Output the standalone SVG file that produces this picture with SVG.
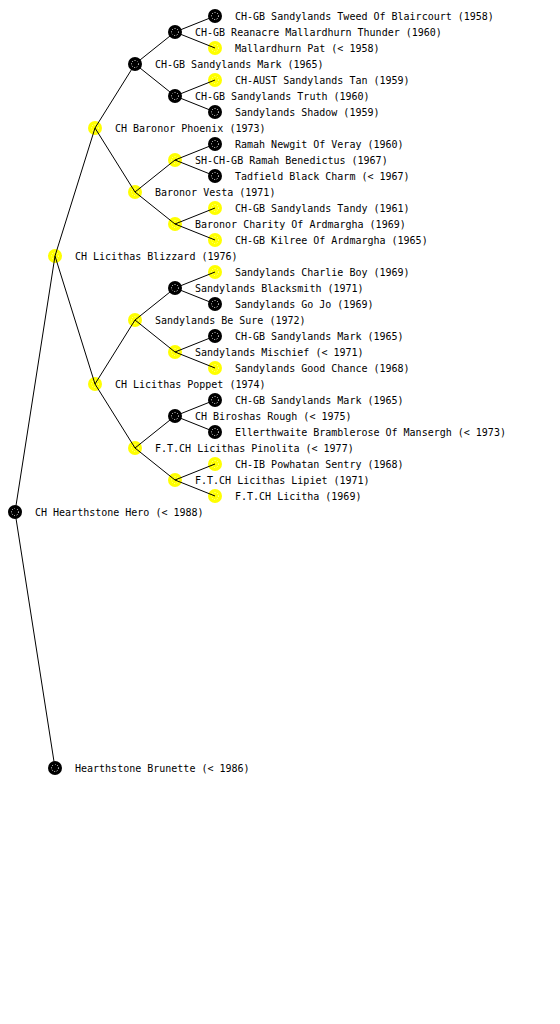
<svg xmlns="http://www.w3.org/2000/svg" width="560" height="1024" viewBox="0 0 560 1024">
<style>
.e{stroke:#000;stroke-width:1;fill:none}
.b{fill:#000}
.y{fill:#ffff00}
.d{fill:none;stroke:#fff;stroke-width:1;stroke-dasharray:1 1.6}
.dy{fill:none;stroke:#ffffb0;stroke-width:1;stroke-dasharray:1 1.6}
text{font-family:"DejaVu Sans Mono","Liberation Mono",monospace;font-size:10px;fill:#000}
</style>
<rect width="560" height="1024" fill="#fff"/>
<g id="n0"><circle class="b" cx="15" cy="512" r="7"/><circle class="d" cx="15" cy="512" r="3.5"/><text x="35" y="516">CH Hearthstone Hero (&lt; 1988)</text></g>
<g id="n1"><circle class="y" cx="55" cy="256" r="7"/><circle class="dy" cx="55" cy="256" r="3.5"/><text x="75" y="260">CH Licithas Blizzard (1976)</text></g>
<g id="n2"><circle class="b" cx="55" cy="768" r="7"/><circle class="d" cx="55" cy="768" r="3.5"/><text x="75" y="772">Hearthstone Brunette (&lt; 1986)</text></g>
<g id="n3"><circle class="y" cx="95" cy="128" r="7"/><circle class="dy" cx="95" cy="128" r="3.5"/><text x="115" y="132">CH Baronor Phoenix (1973)</text></g>
<g id="n4"><circle class="y" cx="95" cy="384" r="7"/><circle class="dy" cx="95" cy="384" r="3.5"/><text x="115" y="388">CH Licithas Poppet (1974)</text></g>
<g id="n5"><circle class="b" cx="135" cy="64" r="7"/><circle class="d" cx="135" cy="64" r="3.5"/><text x="155" y="68">CH-GB Sandylands Mark (1965)</text></g>
<g id="n6"><circle class="y" cx="135" cy="192" r="7"/><circle class="dy" cx="135" cy="192" r="3.5"/><text x="155" y="196">Baronor Vesta (1971)</text></g>
<g id="n7"><circle class="y" cx="135" cy="320" r="7"/><circle class="dy" cx="135" cy="320" r="3.5"/><text x="155" y="324">Sandylands Be Sure (1972)</text></g>
<g id="n8"><circle class="y" cx="135" cy="448" r="7"/><circle class="dy" cx="135" cy="448" r="3.5"/><text x="155" y="452">F.T.CH Licithas Pinolita (&lt; 1977)</text></g>
<g id="n9"><circle class="b" cx="175" cy="32" r="7"/><circle class="d" cx="175" cy="32" r="3.5"/><text x="195" y="36">CH-GB Reanacre Mallardhurn Thunder (1960)</text></g>
<g id="n10"><circle class="b" cx="175" cy="96" r="7"/><circle class="d" cx="175" cy="96" r="3.5"/><text x="195" y="100">CH-GB Sandylands Truth (1960)</text></g>
<g id="n11"><circle class="y" cx="175" cy="160" r="7"/><circle class="dy" cx="175" cy="160" r="3.5"/><text x="195" y="164">SH-CH-GB Ramah Benedictus (1967)</text></g>
<g id="n12"><circle class="y" cx="175" cy="224" r="7"/><circle class="dy" cx="175" cy="224" r="3.5"/><text x="195" y="228">Baronor Charity Of Ardmargha (1969)</text></g>
<g id="n13"><circle class="b" cx="175" cy="288" r="7"/><circle class="d" cx="175" cy="288" r="3.5"/><text x="195" y="292">Sandylands Blacksmith (1971)</text></g>
<g id="n14"><circle class="y" cx="175" cy="352" r="7"/><circle class="dy" cx="175" cy="352" r="3.5"/><text x="195" y="356">Sandylands Mischief (&lt; 1971)</text></g>
<g id="n15"><circle class="b" cx="175" cy="416" r="7"/><circle class="d" cx="175" cy="416" r="3.5"/><text x="195" y="420">CH Biroshas Rough (&lt; 1975)</text></g>
<g id="n16"><circle class="y" cx="175" cy="480" r="7"/><circle class="dy" cx="175" cy="480" r="3.5"/><text x="195" y="484">F.T.CH Licithas Lipiet (1971)</text></g>
<g id="n17"><circle class="b" cx="215" cy="16" r="7"/><circle class="d" cx="215" cy="16" r="3.5"/><text x="235" y="20">CH-GB Sandylands Tweed Of Blaircourt (1958)</text></g>
<g id="n18"><circle class="y" cx="215" cy="48" r="7"/><circle class="dy" cx="215" cy="48" r="3.5"/><text x="235" y="52">Mallardhurn Pat (&lt; 1958)</text></g>
<g id="n19"><circle class="y" cx="215" cy="80" r="7"/><circle class="dy" cx="215" cy="80" r="3.5"/><text x="235" y="84">CH-AUST Sandylands Tan (1959)</text></g>
<g id="n20"><circle class="b" cx="215" cy="112" r="7"/><circle class="d" cx="215" cy="112" r="3.5"/><text x="235" y="116">Sandylands Shadow (1959)</text></g>
<g id="n21"><circle class="b" cx="215" cy="144" r="7"/><circle class="d" cx="215" cy="144" r="3.5"/><text x="235" y="148">Ramah Newgit Of Veray (1960)</text></g>
<g id="n22"><circle class="b" cx="215" cy="176" r="7"/><circle class="d" cx="215" cy="176" r="3.5"/><text x="235" y="180">Tadfield Black Charm (&lt; 1967)</text></g>
<g id="n23"><circle class="y" cx="215" cy="208" r="7"/><circle class="dy" cx="215" cy="208" r="3.5"/><text x="235" y="212">CH-GB Sandylands Tandy (1961)</text></g>
<g id="n24"><circle class="y" cx="215" cy="240" r="7"/><circle class="dy" cx="215" cy="240" r="3.5"/><text x="235" y="244">CH-GB Kilree Of Ardmargha (1965)</text></g>
<g id="n25"><circle class="y" cx="215" cy="272" r="7"/><circle class="dy" cx="215" cy="272" r="3.5"/><text x="235" y="276">Sandylands Charlie Boy (1969)</text></g>
<g id="n26"><circle class="b" cx="215" cy="304" r="7"/><circle class="d" cx="215" cy="304" r="3.5"/><text x="235" y="308">Sandylands Go Jo (1969)</text></g>
<g id="n27"><circle class="b" cx="215" cy="336" r="7"/><circle class="d" cx="215" cy="336" r="3.5"/><text x="235" y="340">CH-GB Sandylands Mark (1965)</text></g>
<g id="n28"><circle class="y" cx="215" cy="368" r="7"/><circle class="dy" cx="215" cy="368" r="3.5"/><text x="235" y="372">Sandylands Good Chance (1968)</text></g>
<g id="n29"><circle class="b" cx="215" cy="400" r="7"/><circle class="d" cx="215" cy="400" r="3.5"/><text x="235" y="404">CH-GB Sandylands Mark (1965)</text></g>
<g id="n30"><circle class="b" cx="215" cy="432" r="7"/><circle class="d" cx="215" cy="432" r="3.5"/><text x="235" y="436">Ellerthwaite Bramblerose Of Mansergh (&lt; 1973)</text></g>
<g id="n31"><circle class="y" cx="215" cy="464" r="7"/><circle class="dy" cx="215" cy="464" r="3.5"/><text x="235" y="468">CH-IB Powhatan Sentry (1968)</text></g>
<g id="n32"><circle class="y" cx="215" cy="496" r="7"/><circle class="dy" cx="215" cy="496" r="3.5"/><text x="235" y="500">F.T.CH Licitha (1969)</text></g>
<g id="connectors">
<line class="e" x1="15" y1="512" x2="55" y2="256"/>
<line class="e" x1="15" y1="512" x2="55" y2="768"/>
<line class="e" x1="55" y1="256" x2="95" y2="128"/>
<line class="e" x1="55" y1="256" x2="95" y2="384"/>
<line class="e" x1="95" y1="128" x2="135" y2="64"/>
<line class="e" x1="95" y1="128" x2="135" y2="192"/>
<line class="e" x1="95" y1="384" x2="135" y2="320"/>
<line class="e" x1="95" y1="384" x2="135" y2="448"/>
<line class="e" x1="135" y1="64" x2="175" y2="32"/>
<line class="e" x1="135" y1="64" x2="175" y2="96"/>
<line class="e" x1="135" y1="192" x2="175" y2="160"/>
<line class="e" x1="135" y1="192" x2="175" y2="224"/>
<line class="e" x1="135" y1="320" x2="175" y2="288"/>
<line class="e" x1="135" y1="320" x2="175" y2="352"/>
<line class="e" x1="135" y1="448" x2="175" y2="416"/>
<line class="e" x1="135" y1="448" x2="175" y2="480"/>
<line class="e" x1="175" y1="32" x2="215" y2="16"/>
<line class="e" x1="175" y1="32" x2="215" y2="48"/>
<line class="e" x1="175" y1="96" x2="215" y2="80"/>
<line class="e" x1="175" y1="96" x2="215" y2="112"/>
<line class="e" x1="175" y1="160" x2="215" y2="144"/>
<line class="e" x1="175" y1="160" x2="215" y2="176"/>
<line class="e" x1="175" y1="224" x2="215" y2="208"/>
<line class="e" x1="175" y1="224" x2="215" y2="240"/>
<line class="e" x1="175" y1="288" x2="215" y2="272"/>
<line class="e" x1="175" y1="288" x2="215" y2="304"/>
<line class="e" x1="175" y1="352" x2="215" y2="336"/>
<line class="e" x1="175" y1="352" x2="215" y2="368"/>
<line class="e" x1="175" y1="416" x2="215" y2="400"/>
<line class="e" x1="175" y1="416" x2="215" y2="432"/>
<line class="e" x1="175" y1="480" x2="215" y2="464"/>
<line class="e" x1="175" y1="480" x2="215" y2="496"/>
</g>
</svg>
